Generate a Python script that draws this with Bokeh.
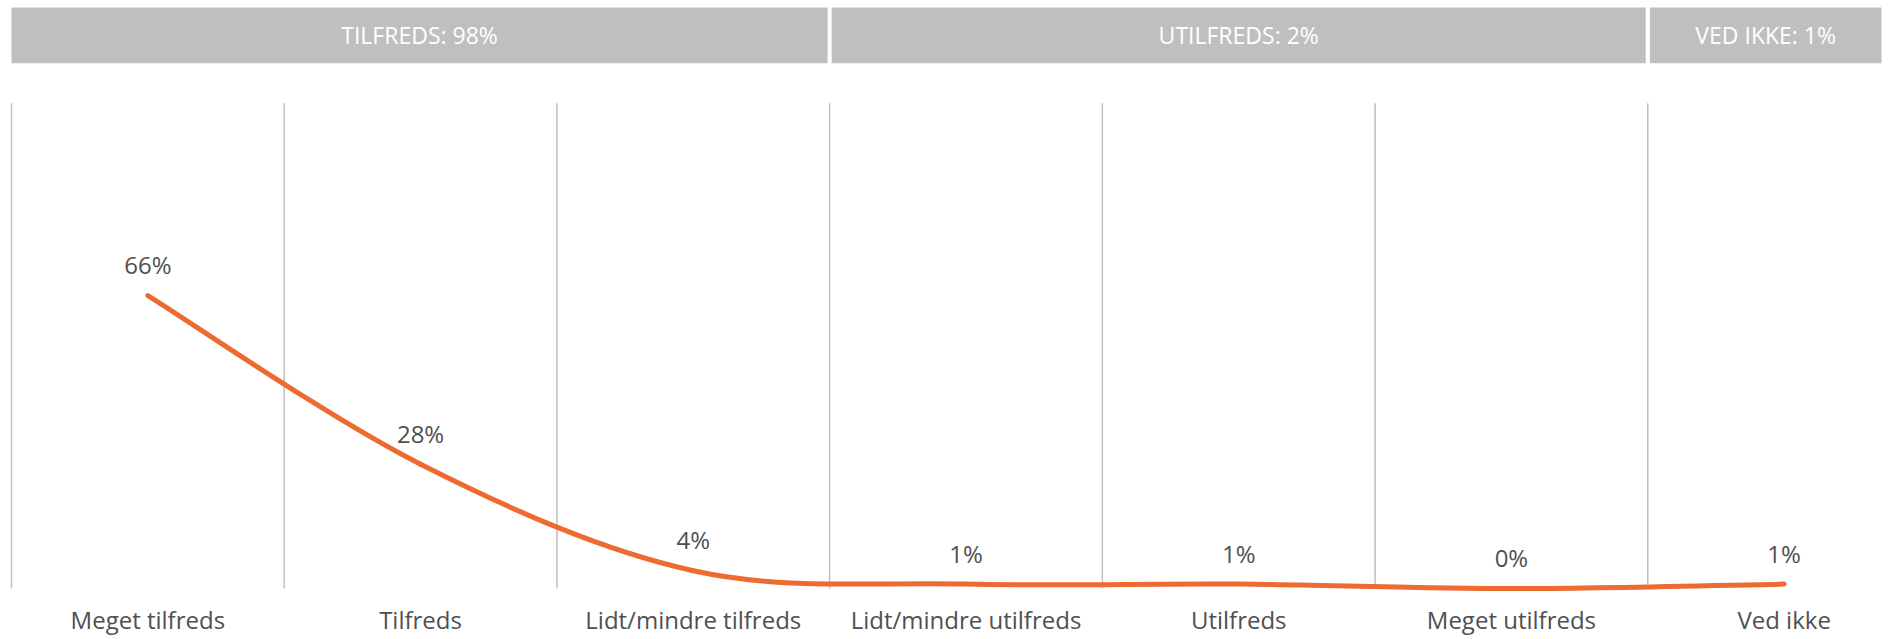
from bokeh.plotting import figure
from bokeh.models import Range1d, ColumnDataSource
from bokeh.core.properties import value
from bokeh.embed import file_html
from bokeh.resources import INLINE

# ---- data ----
categories = ["Meget tilfreds", "Tilfreds", "Lidt/mindre tilfreds",
              "Lidt/mindre utilfreds", "Utilfreds", "Meget utilfreds", "Ved ikke"]
values = [66, 28, 4, 1, 1, 0, 1]
value_labels = ["66%", "28%", "4%", "1%", "1%", "0%", "1%"]
group_names = ["TILFREDS: 98%", "UTILFREDS: 2%", "VED IKKE: 1%"]
group_start = [0, 3, 6]
group_end = [3, 6, 7]

FONT = "Open Sans"
TEXT_COL = "#505050"
ORANGE = "#ED6A30"
GRID_COL = "#BFBFBF"

x_lo, x_hi = -0.0403, 6.912
y_lo, y_hi = -11.49, 132.46

p = figure(width=1896, height=639, output_backend="svg", toolbar_location=None,
           x_range=Range1d(x_lo, x_hi), y_range=Range1d(y_lo, y_hi),
           x_axis_location=None, y_axis_location=None,
           min_border=0, min_border_left=0, min_border_right=0,
           min_border_top=0, min_border_bottom=0)
p.outline_line_color = None
p.xgrid.visible = False
p.ygrid.visible = False
p.background_fill_color = "white"

n = len(categories)
centers = [i + 0.5 for i in range(n)]

# category labels
csrc = ColumnDataSource(dict(x=centers, y=[0] * n, t=categories))
p.text(x="x", y="y", text="t", source=csrc, y_offset=31,
       text_font=value(FONT), text_font_size="24px", text_color=TEXT_COL,
       text_align="center", text_baseline="middle")

# vertical separators between categories
sep_x = list(range(n))
p.segment(x0=sep_x, y0=[0] * n, x1=sep_x, y1=[109.3] * n,
          line_color=GRID_COL, line_width=1.5)

# group header bars
gap = 0.0075
right_edge = 6.857
hl, hr, hm = [], [], []
for k, (s, e) in enumerate(zip(group_start, group_end)):
    left = s + (gap if k > 0 else 0)
    right = (e - gap) if e < n else right_edge
    hl.append(left)
    hr.append(right)
    hm.append((left + right) / 2)
hsrc = ColumnDataSource(dict(left=hl, right=hr, name=group_names, xm=hm))
p.quad(left="left", right="right", bottom=118.3, top=130.9, source=hsrc,
       fill_color="#BFBFBF", line_color=None)
p.text(x="xm", y=(118.3 + 130.9) / 2, text="name", source=hsrc,
       text_font=value(FONT), text_font_size="23px", text_color="white",
       text_align="center", text_baseline="middle")

# smooth line (Catmull-Rom -> cubic Bezier through the data points)
xs = centers
ys = values
bx0, by0, bx1, by1, cx0, cy0, cx1, cy1 = [], [], [], [], [], [], [], []
for i in range(n - 1):
    xm1, ym1 = (xs[i - 1], ys[i - 1]) if i > 0 else (xs[i], ys[i])
    xp2, yp2 = (xs[i + 2], ys[i + 2]) if i + 2 < n else (xs[i + 1], ys[i + 1])
    bx0.append(xs[i]); by0.append(ys[i])
    bx1.append(xs[i + 1]); by1.append(ys[i + 1])
    cx0.append(xs[i] + (xs[i + 1] - xm1) / 6); cy0.append(ys[i] + (ys[i + 1] - ym1) / 6)
    cx1.append(xs[i + 1] - (xp2 - xs[i]) / 6); cy1.append(ys[i + 1] - (yp2 - ys[i]) / 6)
p.bezier(x0=bx0, y0=by0, x1=bx1, y1=by1, cx0=cx0, cy0=cy0, cx1=cx1, cy1=cy1,
         line_color=ORANGE, line_width=5, line_cap="round")

# data labels
lsrc = ColumnDataSource(dict(x=centers, y=values, t=value_labels))
p.text(x="x", y="y", text="t", source=lsrc, y_offset=-31,
       text_font=value(FONT), text_font_size="24px", text_color=TEXT_COL,
       text_align="center", text_baseline="middle")

open("out.html", "w").write(file_html(p, INLINE))
